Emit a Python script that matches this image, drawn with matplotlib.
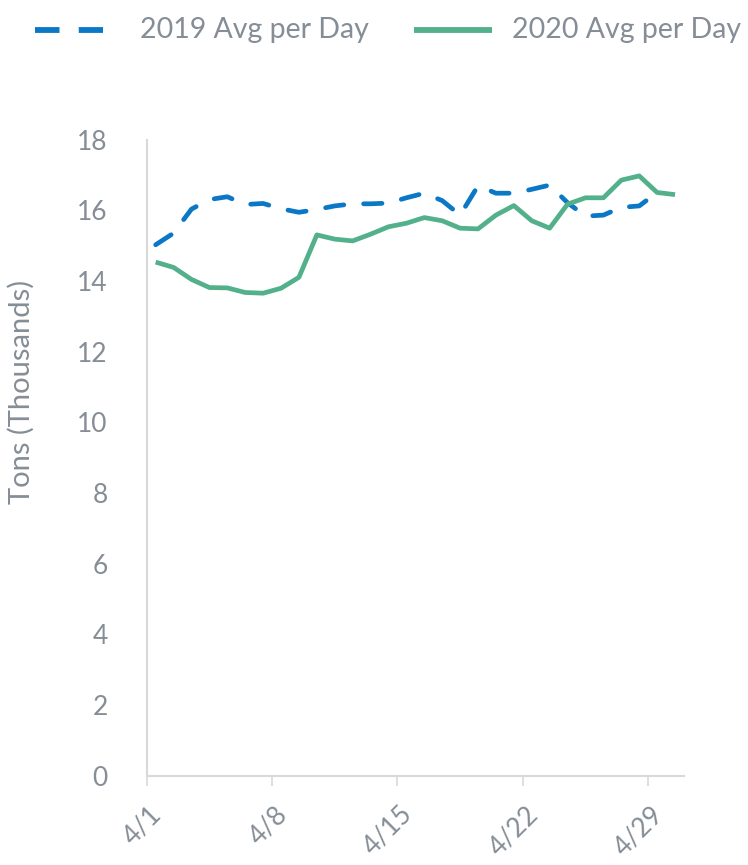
import numpy as np
import matplotlib
matplotlib.use('Agg')
import matplotlib.pyplot as plt
import matplotlib.transforms as mtransforms
from matplotlib.lines import Line2D

# Daily averages for April, thousands of tons
avg_2019 = [15.02, 15.35, 16.03, 16.30, 16.38, 16.16, 16.19, 16.04, 15.94, 16.02,
            16.12, 16.18, 16.18, 16.20, 16.35, 16.48, 16.27, 15.86, 16.69, 16.48,
            16.48, 16.59, 16.71, 16.21, 15.83, 15.86, 16.08, 16.12, 16.50]
avg_2020 = [14.53, 14.38, 14.04, 13.81, 13.80, 13.67, 13.65, 13.79, 14.10, 15.30,
            15.18, 15.13, 15.32, 15.53, 15.63, 15.79, 15.70, 15.49, 15.47, 15.86,
            16.13, 15.70, 15.49, 16.17, 16.35, 16.35, 16.85, 16.97, 16.50, 16.44]
tick_days = [0, 7, 14, 21, 28]
tick_labels = ['4/1', '4/8', '4/15', '4/22', '4/29']
y_ticks = [0, 2, 4, 6, 8, 10, 12, 14, 16, 18]
series_names = ['2019 Avg per Day', '2020 Avg per Day']

blue = '#0a78c6'
green = '#52b08a'
grey = '#858d96'
axis_col = '#d9d9d9'

plt.rcParams['font.family'] = ['Lato', 'DejaVu Sans']

W, H = 748, 865
fig = plt.figure(figsize=(W / 100, H / 100), dpi=100)
ax = fig.add_axes([146.7 / W, 1 - 775.5 / H, 537.3 / W, 636 / H])


def fx(px):
    return px / W


def fy(py):
    return 1 - py / H


# points sit in the middle of each day slot
x19 = np.arange(len(avg_2019)) + 0.5
x20 = np.arange(len(avg_2020)) + 0.5

ax.plot(x19, avg_2019, color=blue, lw=3.4, dashes=(3.9, 4.2),
        dash_capstyle='round', dash_joinstyle='round')
ax.plot(x20, avg_2020, color=green, lw=3.4, solid_joinstyle='round',
        solid_capstyle='butt')

ax.set_xlim(0, 30)
ax.set_ylim(0, 18)
ax.set_yticks(y_ticks)
ax.set_xticks(tick_days)
ax.set_xticklabels(tick_labels, rotation=45, ha='right', va='center',
                   rotation_mode='anchor')
ax.tick_params(axis='y', length=0, pad=28, labelsize=19, labelcolor=grey)
ax.tick_params(axis='x', length=7, width=1.2, color=axis_col, pad=18,
               labelsize=19, labelcolor=grey)
shift = mtransforms.ScaledTranslation(8 / 72, 0, fig.dpi_scale_trans)
for lab in ax.get_xticklabels():
    lab.set_transform(lab.get_transform() + shift)

for side in ['top', 'right']:
    ax.spines[side].set_visible(False)
for side in ['left', 'bottom']:
    ax.spines[side].set_color(axis_col)
    ax.spines[side].set_linewidth(1.5)

ax.set_ylabel('Tons (Thousands)', fontsize=21, color=grey, va='center')
ax.yaxis.set_label_coords(fx(21), fy(392), transform=fig.transFigure)

# legend row across the top
fig.add_artist(Line2D([fx(35), fx(103)], [fy(30), fy(30)], color=blue, lw=4.2,
                      dashes=(4.2, 3.3), dash_capstyle='butt'))
fig.text(fx(140), fy(30), series_names[0], fontsize=20.5, color=grey,
         ha='left', va='center')
fig.add_artist(Line2D([fx(414), fx(492)], [fy(30), fy(30)], color=green,
                      lw=4.2, solid_capstyle='butt'))
fig.text(fx(512), fy(30), series_names[1], fontsize=20.5, color=grey,
         ha='left', va='center')

fig.savefig('out.png', dpi=100)
